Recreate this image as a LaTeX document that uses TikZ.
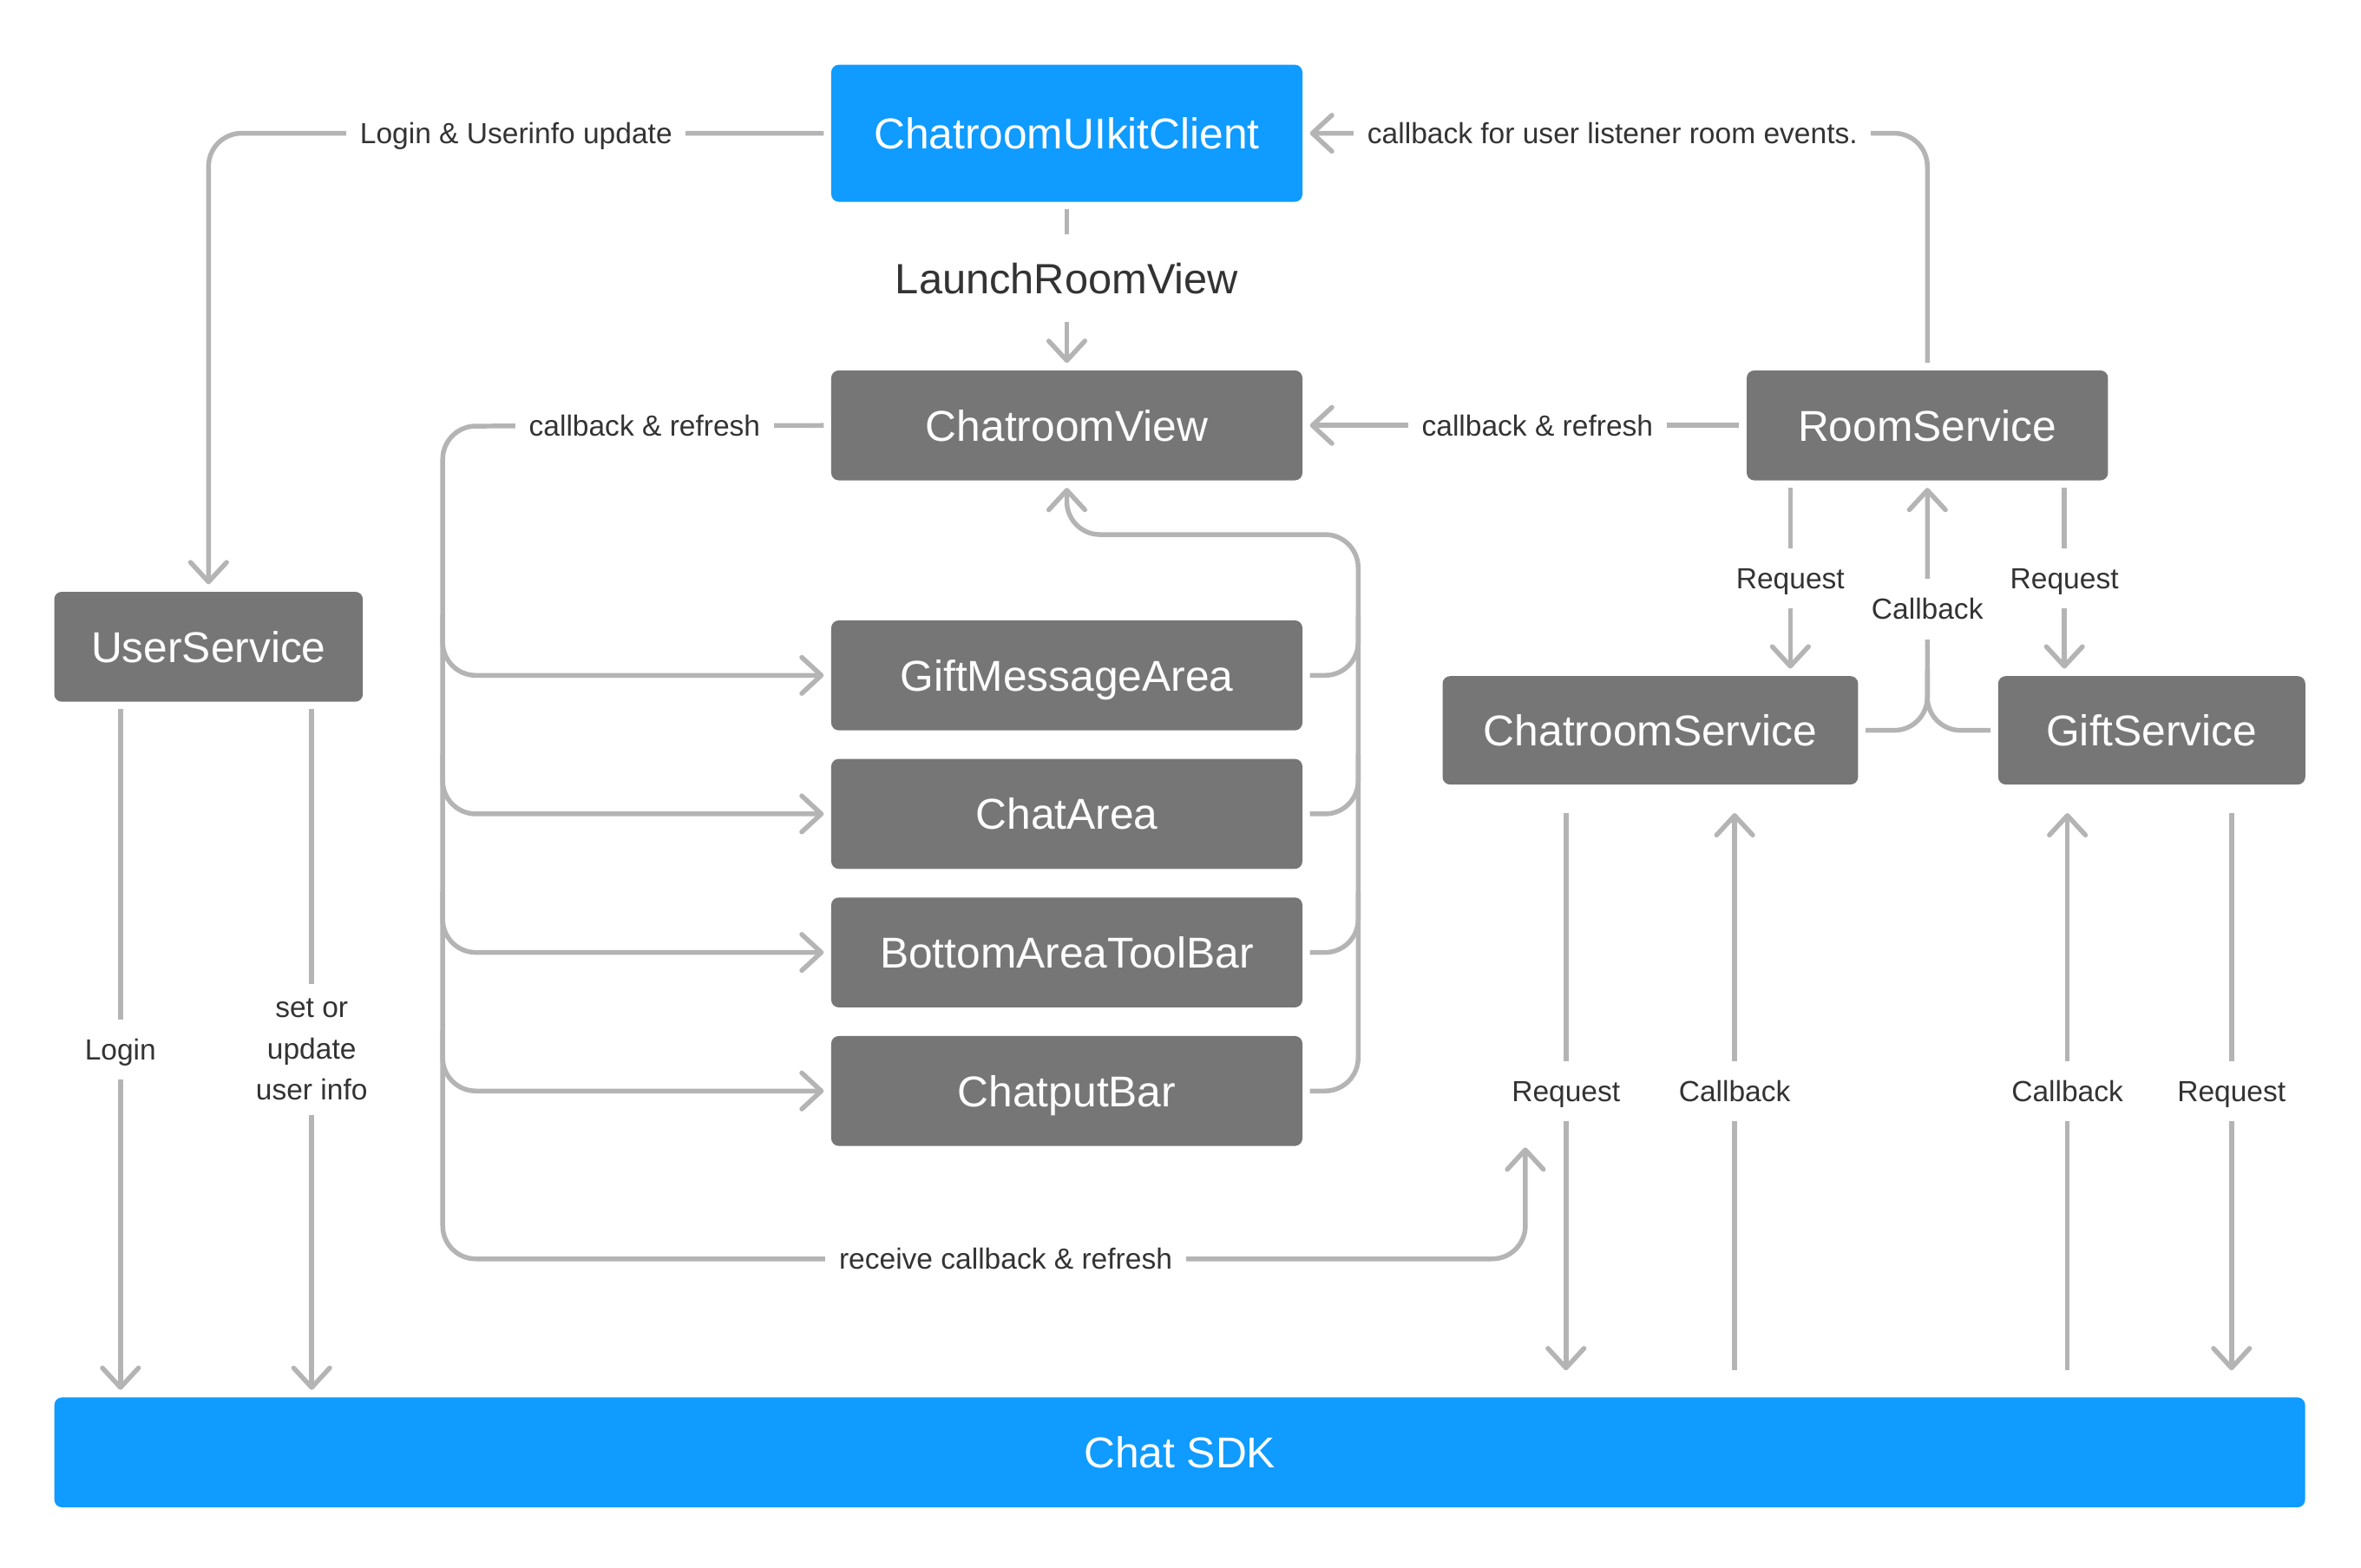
\documentclass[tikz,border=0pt]{standalone}
\usepackage{fontspec}
\setmainfont{Liberation Sans}
\usetikzlibrary{arrows.meta,calc}
\definecolor{sdkblue}{HTML}{0F9BFF}
\definecolor{boxgray}{HTML}{767676}
\definecolor{linegray}{HTML}{B4B4B4}
\definecolor{txtgray}{HTML}{333333}
\tikzset{
	box/.style={fill=boxgray, text=white, rounded corners=0.1cm, minimum width=6.26cm, minimum height=1.46cm, outer sep=0.1cm, text height=11.7pt, text depth=0pt, font=\fontsize{16.3}{19}\selectfont},
	bluebox/.style={box, fill=sdkblue},
	link/.style={draw=linegray, line width=1.8pt, rounded corners=0.44cm},
	arr/.style={link, -{Straight Barb[length=2.6mm,width=4.8mm,round]}},
	lab/.style={fill=white, text=txtgray, sharp corners, inner xsep=0.18cm, inner ysep=0.26cm, text height=7.9pt, text depth=0pt, font=\fontsize{11}{15.6}\selectfont},
}
\begin{document}
\begin{tikzpicture}[x=0.02cm, y=-0.02cm]
	\useasboundingbox (0,0) rectangle (1568,1041);
	
	\node[bluebox, minimum height=1.82cm] (client) at (708.5,88.5) {ChatroomUIkitClient};
	\node[box] (cview) at (708.5,282.5) {ChatroomView};
	\node[box, minimum width=4.8cm] (rsvc) at (1280,282.5) {RoomService};
	\node[box, minimum width=4.1cm] (usvc) at (138.5,429.5) {UserService};
	\node[box] (gma) at (708.5,448.5) {GiftMessageArea};
	\node[box] (carea) at (708.5,540.5) {ChatArea};
	\node[box] (bbar) at (708.5,632.5) {BottomAreaToolBar};
	\node[box] (cbar) at (708.5,724.5) {ChatputBar};
	\node[box, minimum width=5.52cm, minimum height=1.44cm] (csvc) at (1096,485) {ChatroomService};
	\node[box, minimum width=4.08cm, minimum height=1.44cm] (gsvc) at (1429,485) {GiftService};
	\node[bluebox, minimum width=29.9cm] (sdk) at (783.5,964.5) {Chat SDK};
	
	\coordinate (lv) at (294,283);%linke Schiene
	\coordinate (lb) at (294,836);
	\coordinate (rv) at (902,355);%rechte Schiene
	\coordinate (rcv) at (1013,762);
	\coordinate (cbk) at (1280,445);
	
	%oben
	\draw[arr] (client.west) -| node[lab, pos=0.25] {Login \& Userinfo update} (usvc.north);
	\draw[arr] (rsvc.north) |- node[lab, pos=0.755] {callback for user listener room events.} (client.east);
	\draw[arr] (client.south) -- node[lab, pos=0.45, inner ysep=0.38cm, text height=11.5pt, font=\fontsize{16}{19}\selectfont] {LaunchRoomView} (cview.north);
	\draw[arr] (rsvc.west) -- node[lab, pos=0.47] {callback \& refresh} (cview.east);
	
	%links
	\draw[arr] (cview.west) -- node[lab, pos=0.47] {callback \& refresh} (lv) -- (lb) -- node[lab, pos=0.52] {receive callback \& refresh} (lb -| rcv) -- (rcv);
	\foreach \b in {gma,carea,bbar,cbar}
		\draw[arr] ($(\b.west -| lv)+(0,-40)$) |- (\b.west);
	
	%rechts
	\draw[arr] (cbar.east) -| (rv) -| (cview.south);
	\foreach \b in {gma,carea,bbar}
		\draw[link] (\b.east) -| ($(\b.east -| rv)+(0,-40)$);
	
	%RoomService
	\coordinate (rq1) at ($(rsvc.south)+(-91,0)$);
	\coordinate (rq2) at ($(rsvc.south)+(91,0)$);
	\draw[arr] (rq1) -- node[lab] {Request} (rq1 |- csvc.north);
	\draw[arr] (rq2) -- node[lab] {Request} (rq2 |- gsvc.north);
	\draw[arr] (csvc.east) -| node[lab, pos=0.75] {Callback} (rsvc.south);
	\draw[link] (gsvc.west) -| (cbk);
	
	%UserService
	\coordinate (lg) at ($(usvc.south)+(-58.5,0)$);
	\coordinate (su) at ($(usvc.south)+(68.5,0)$);
	\draw[arr] (lg) -- node[lab] {Login} (lg |- sdk.north);
	\draw[arr] (su) -- node[lab, align=center, text height={}, text depth={}, inner ysep=0.2cm] {set or\\update\\user info} (su |- sdk.north);
	
	%Chat SDK
	\coordinate (cq) at ($(csvc.south)+(-56,0)$);
	\coordinate (cc) at ($(csvc.south)+(56,0)$);
	\coordinate (gc) at ($(gsvc.south)+(-56,0)$);
	\coordinate (gq) at ($(gsvc.south)+(53,0)$);
	\draw[arr, shorten <=0.28cm, shorten >=0.26cm] (cq) -- node[lab] {Request} (cq |- sdk.north);
	\draw[arr, shorten <=0.26cm, shorten >=0.28cm] (cc |- sdk.north) -- node[lab] {Callback} (cc);
	\draw[arr, shorten <=0.26cm, shorten >=0.28cm] (gc |- sdk.north) -- node[lab] {Callback} (gc);
	\draw[arr, shorten <=0.28cm, shorten >=0.26cm] (gq) -- node[lab] {Request} (gq |- sdk.north);
	
\end{tikzpicture}
\end{document}
